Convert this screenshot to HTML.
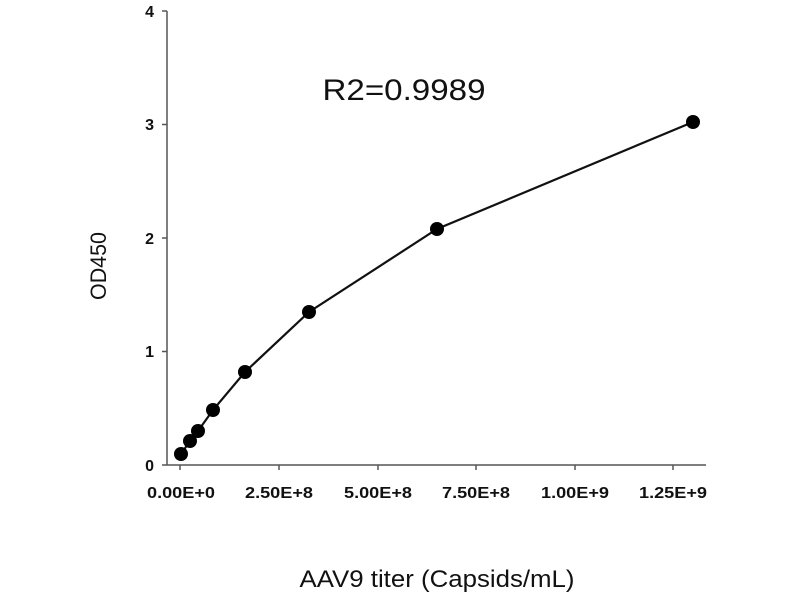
<!DOCTYPE html>
<html><head><meta charset="utf-8"><style>html,body{margin:0;padding:0;background:#fff}svg{display:block}</style></head>
<body>
<svg width="800" height="600" xmlns="http://www.w3.org/2000/svg" font-family="Liberation Sans, sans-serif">
<g stroke="#555" stroke-width="1.5" fill="none">
<line x1="167" y1="11" x2="167" y2="465"/>
<line x1="162" y1="465" x2="706" y2="465"/>
<line x1="162" y1="11" x2="167" y2="11"/>
<line x1="162" y1="124.5" x2="167" y2="124.5"/>
<line x1="162" y1="238" x2="167" y2="238"/>
<line x1="162" y1="351.5" x2="167" y2="351.5"/>
<line x1="180" y1="465" x2="180" y2="470"/>
<line x1="279" y1="465" x2="279" y2="470"/>
<line x1="378" y1="465" x2="378" y2="470"/>
<line x1="476" y1="465" x2="476" y2="470"/>
<line x1="575" y1="465" x2="575" y2="470"/>
<line x1="673" y1="465" x2="673" y2="470"/>
</g>
<g font-size="16" font-weight="bold" fill="#111" text-anchor="end">
<text x="154" y="17">4</text>
<text x="154" y="130">3</text>
<text x="154" y="244">2</text>
<text x="154" y="357">1</text>
<text x="154" y="471">0</text>
</g>
<g font-size="16" font-weight="bold" fill="#111" text-anchor="middle">
<text x="181" y="498" textLength="68" lengthAdjust="spacingAndGlyphs">0.00E+0</text>
<text x="279" y="498" textLength="68" lengthAdjust="spacingAndGlyphs">2.50E+8</text>
<text x="378" y="498" textLength="68" lengthAdjust="spacingAndGlyphs">5.00E+8</text>
<text x="476" y="498" textLength="68" lengthAdjust="spacingAndGlyphs">7.50E+8</text>
<text x="575" y="498" textLength="68" lengthAdjust="spacingAndGlyphs">1.00E+9</text>
<text x="673" y="498" textLength="68" lengthAdjust="spacingAndGlyphs">1.25E+9</text>
</g>
<text x="437" y="587" font-size="24" text-anchor="middle" fill="#111" textLength="275" lengthAdjust="spacingAndGlyphs">AAV9 titer (Capsids/mL)</text>
<text transform="translate(106,266) rotate(-90)" font-size="22" text-anchor="middle" fill="#111" textLength="68" lengthAdjust="spacingAndGlyphs">OD450</text>
<text x="404" y="100" font-size="30" text-anchor="middle" fill="#111" textLength="163" lengthAdjust="spacingAndGlyphs">R2=0.9989</text>
<polyline fill="none" stroke="#111" stroke-width="2.2" points="181,454 190,441 198,431 213,410 245,372 309,312 437,229 693,122"/>
<g fill="#000">
<circle cx="181" cy="454" r="7"/><circle cx="190" cy="441" r="7"/><circle cx="198" cy="431" r="7"/>
<circle cx="213" cy="410" r="7"/><circle cx="245" cy="372" r="7"/><circle cx="309" cy="312" r="7"/>
<circle cx="437" cy="229" r="7"/><circle cx="693" cy="122" r="7"/>
</g>
</svg>
</body></html>
